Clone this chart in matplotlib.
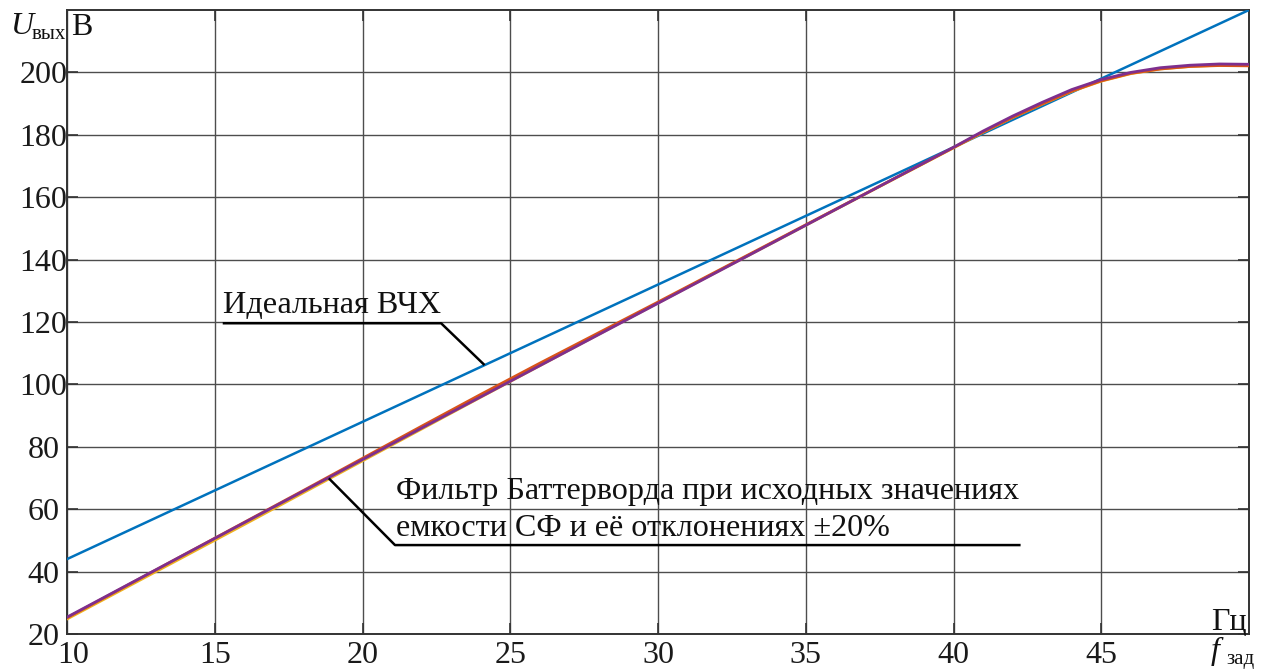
import matplotlib
matplotlib.use("Agg")
import matplotlib.pyplot as plt
from matplotlib.transforms import ScaledTranslation

# Frequency setpoint, Hz
freq = [10, 12, 14, 16, 18, 20, 22, 24, 26, 28, 30, 32, 34, 36, 38, 40,
        41, 42, 43, 44, 45, 46, 47, 48, 49, 50]

# Butterworth filter output: nominal capacitance and +/-20 % deviations
u_nominal = [25.4, 35.5, 45.6, 55.7, 65.8, 75.9, 86.0, 96.0, 106.0, 116.0,
             126.0, 136.0, 146.0, 156.0, 166.0, 176.0, 181.2, 186.0, 190.4,
             194.5, 197.7, 200.0, 201.5, 202.3, 202.7, 202.6]
u_plus20 = [25.2, 35.4, 45.6, 55.8, 66.0, 76.3, 86.6, 96.8, 106.8, 116.6,
            126.4, 136.3, 146.2, 156.1, 166.0, 175.9, 180.9, 185.6, 189.9,
            194.0, 197.3, 199.7, 201.1, 201.9, 202.2, 202.1]
u_minus20 = [24.8, 34.9, 45.0, 55.1, 65.3, 75.5, 85.7, 95.9, 106.0, 116.1,
             126.1, 136.1, 146.0, 156.0, 165.9, 175.8, 180.8, 185.5, 189.8,
             193.9, 197.2, 199.6, 201.1, 201.9, 202.3, 202.2]

# Ideal V/f characteristic
ideal_freq = [10, 50]
ideal_u = [44, 220]

x_ticks = [10, 15, 20, 25, 30, 35, 40, 45]
y_ticks = [20, 40, 60, 80, 100, 120, 140, 160, 180, 200]

serif = ["Liberation Serif", "DejaVu Serif"]
plt.rcParams["font.family"] = serif

fig = plt.figure(figsize=(12.64, 6.71), dpi=100)
ax = fig.add_axes([67 / 1264, 1 - 634 / 671, (1249 - 67) / 1264, (634 - 10) / 671])

ax.plot(ideal_freq, ideal_u, color="#0072BD", lw=1.8, zorder=3)
ax.plot(freq, u_minus20, color="#EDB120", lw=2.0, zorder=4)
ax.plot(freq, u_plus20, color="#D95319", lw=2.0, zorder=5)
ax.plot(freq, u_nominal, color="#7E2F8E", lw=2.0, zorder=6)

ax.set_xlim(10, 50)
ax.set_ylim(20, 220)
ax.set_xticks(x_ticks)
ax.set_yticks(y_ticks)
ax.set_xticklabels([str(v) for v in x_ticks])
ax.set_yticklabels([str(v) for v in y_ticks], ha="center")
ax.tick_params(axis="both", direction="in", length=8, width=1.2, color="#333333",
               labelsize=23, top=True, right=True, labelcolor="#1a1a1a")
ax.tick_params(axis="x", pad=5)
ax.tick_params(axis="y", pad=17)
ax.grid(True, color="#4d4d4d", lw=1.0)
ax.set_axisbelow(True)
for sp in ax.spines.values():
    sp.set_color("#333333")
    sp.set_linewidth(1.4)

# nudge the first frequency label off the corner
first = ax.get_xticklabels()[0]
first.set_transform(first.get_transform() + ScaledTranslation(6 / 100, 0, fig.dpi_scale_trans))

# Callout for the ideal characteristic
ax.plot([15.27, 22.66, 24.13], [119.6, 119.6, 106.2], color="black", lw=1.8,
        zorder=7, solid_capstyle="butt")
ax.text(15.27, 120.6, "Идеальная ВЧХ", fontsize=23.2, ha="left", va="bottom",
        color="#111111", zorder=8)

# Callout for the Butterworth filter curves
ax.plot([18.86, 21.1, 42.27], [69.9, 48.5, 48.5], color="black", lw=1.8,
        zorder=7, solid_capstyle="butt")
ax.text(21.15, 63.2, "Фильтр Баттерворда при исходных значениях",
        fontsize=23.1, ha="left", va="baseline", color="#111111", zorder=8)
ax.text(21.15, 51.4, "емкости СФ и её отклонениях ±20%",
        fontsize=23.1, ha="left", va="baseline", color="#111111", zorder=8)

# Axis labels
fig.text(10 / 1264, 1 - 34 / 671, "U", fontsize=23, style="italic",
         ha="left", va="baseline", color="#111111")
fig.text(32 / 1264, 1 - 39 / 671, "вых", fontsize=15,
         ha="left", va="baseline", color="#111111")
fig.text(71 / 1264, 1 - 35 / 671, "В", fontsize=23,
         ha="left", va="baseline", color="#111111")

fig.text(1247 / 1264, 1 - 630 / 671, "Гц", fontsize=23,
         ha="right", va="baseline", color="#111111")
fig.text(1211 / 1264, 1 - 659 / 671, "f", fontsize=23, style="italic",
         ha="left", va="baseline", color="#111111")
fig.text(1226 / 1264, 1 - 664 / 671, "зад", fontsize=15,
         ha="left", va="baseline", color="#111111")

fig.savefig("out.png", dpi=100)
